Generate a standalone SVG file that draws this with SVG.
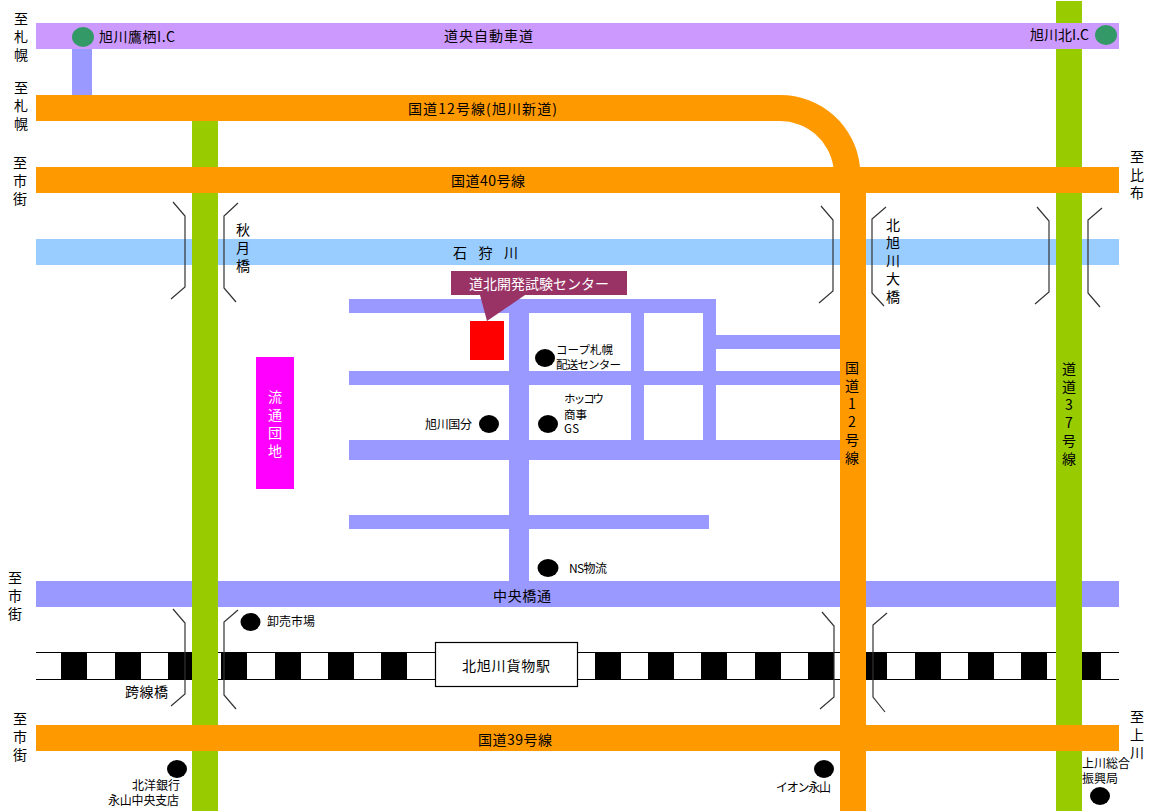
<svg xmlns="http://www.w3.org/2000/svg" width="1173" height="811" viewBox="0 0 1173 811">
<style>
text{font-family:"Noto Sans CJK JP","Noto Sans CJK SC",sans-serif;font-size:14px;fill:#000}
.v{writing-mode:vertical-rl;text-orientation:upright;letter-spacing:4px}
.s{font-size:12px}
.x{font-size:11.5px}
.w{fill:#fff}
.or{fill:#f90}.gr{fill:#9c0}.pu{fill:#c9f}.bl{fill:#99f}.ri{fill:#9cf}.k{fill:#000}
.ic{fill:#396}
.br{fill:none;stroke:#333;stroke-width:1.2}
</style>
<rect width="1173" height="811" fill="#fff"/>
<g id="rail">
<rect x="36" y="652" width="1083" height="27" fill="#fff"/>
<path d="M36 652.5H1119M36 679.5H1119" stroke="#000" stroke-width="1.2" fill="none"/>
<rect class="k" x="61" y="652" width="26" height="27"/><rect class="k" x="115" y="652" width="26" height="27"/><rect class="k" x="168" y="652" width="26" height="27"/><rect class="k" x="221" y="652" width="26" height="27"/><rect class="k" x="275" y="652" width="26" height="27"/><rect class="k" x="328" y="652" width="26" height="27"/><rect class="k" x="381" y="652" width="26" height="27"/><rect class="k" x="595" y="652" width="26" height="27"/><rect class="k" x="648" y="652" width="26" height="27"/><rect class="k" x="701" y="652" width="26" height="27"/><rect class="k" x="755" y="652" width="26" height="27"/><rect class="k" x="808" y="652" width="26" height="27"/><rect class="k" x="861" y="652" width="26" height="27"/><rect class="k" x="915" y="652" width="26" height="27"/><rect class="k" x="968" y="652" width="26" height="27"/><rect class="k" x="1021" y="652" width="26" height="27"/><rect class="k" x="1075" y="652" width="26" height="27"/>
</g>
<g id="roads">
<rect class="ri" x="36" y="239" width="1083" height="26"/>
<rect class="bl" x="36" y="581" width="1083" height="26"/>
<rect class="bl" x="72" y="49" width="20" height="46"/>
<rect class="bl" x="349" y="299" width="367" height="14"/>
<rect class="bl" x="349" y="371" width="491" height="14"/>
<rect class="bl" x="349" y="440" width="491" height="20"/>
<rect class="bl" x="349" y="515" width="360" height="14"/>
<rect class="bl" x="509" y="299" width="20" height="282"/>
<rect class="bl" x="631" y="299" width="13" height="141"/>
<rect class="bl" x="703" y="299" width="13" height="141"/>
<rect class="bl" x="716" y="335" width="124" height="14"/>
<rect class="gr" x="192" y="121" width="26" height="690"/>
<rect class="gr" x="1056" y="1" width="26" height="810"/>
<rect class="pu" x="36" y="23" width="1083" height="26"/>
<rect class="or" x="840" y="193" width="26" height="618"/>
<path class="or" d="M36 95H780A80 80 0 0 1 860 167H1119V193H36V167H833.400A54 54 0 0 0 780 121H36Z"/>
<rect class="or" x="36" y="725" width="1083" height="26"/>
</g>
<g id="bridges">
<polyline class="br" points="173,202 185,216 185,287 171,299"/>
<polyline class="br" points="238,203 224,216 224,288 236,302"/>
<polyline class="br" points="821,206 833,220 833,291 819,303"/>
<polyline class="br" points="886,207 872,219 872,293 884,306"/>
<polyline class="br" points="1037,207 1049,221 1049,292 1035,304"/>
<polyline class="br" points="1102,208 1088,220 1088,293 1100,307"/>
<polyline class="br" points="173,609 185,623 185,694 171,706"/>
<polyline class="br" points="238,610 224,622 224,695 236,709"/>
<polyline class="br" points="822,612 834,626 834,697 820,709"/>
<polyline class="br" points="887,613 873,625 873,697 885,712"/>
</g>
<g id="station">
<rect x="435.500" y="642.500" width="142" height="44" fill="#fff" stroke="#000" stroke-width="1.200"/>
<text x="462" y="671" textLength="88">北旭川貨物駅</text>
</g>
<g id="danchi">
<rect x="256" y="357" width="38" height="132" fill="#f0f"/>
<text class="v w" x="275" y="390">流通団地</text>
</g>
<g id="center">
<rect x="470" y="321" width="34" height="39" fill="#f00"/>
<path d="M451 271H627V295H525L487 321L480 295H451Z" fill="#936"/>
<text class="w" x="469" y="289" textLength="140">道北開発試験センター</text>
</g>
<g id="ic-west"><ellipse class="ic" cx="83" cy="37" rx="11" ry="10"/><text x="99" y="42" textLength="76">旭川鷹栖I.C</text></g>
<g id="ic-north"><ellipse class="ic" cx="1106" cy="35" rx="11" ry="10"/><text x="1030" y="40" textLength="59">旭川北I.C</text></g>
<g id="poi-coop"><ellipse class="k" cx="545" cy="358" rx="10" ry="9"/><text class="x" x="556" y="354" textLength="57">コープ札幌</text><text class="x" x="556" y="369" textLength="65">配送センター</text></g>
<g id="poi-hokko"><ellipse class="k" cx="548" cy="424" rx="10" ry="9"/><text class="x" x="564" y="403" textLength="40">ホッコウ</text><text class="x" x="564" y="419" textLength="23">商事</text><text class="x" x="564" y="433" textLength="15">GS</text></g>
<g id="poi-kokubu"><ellipse class="k" cx="489" cy="424" rx="10" ry="9"/><text class="s" x="425" y="429" textLength="47">旭川国分</text></g>
<g id="poi-ns"><ellipse class="k" cx="548" cy="568" rx="10.500" ry="9"/><text class="s" x="569" y="573" textLength="38">NS物流</text></g>
<g id="poi-oroshi"><ellipse class="k" cx="250.500" cy="622" rx="10" ry="9"/><text class="s" x="267" y="626" textLength="48">卸売市場</text></g>
<g id="poi-hokuyo"><ellipse class="k" cx="177" cy="769" rx="10" ry="9"/><text class="s" x="132" y="790" textLength="48">北洋銀行</text><text class="s" x="108" y="805" textLength="71">永山中央支店</text></g>
<g id="poi-aeon"><ellipse class="k" cx="824" cy="769" rx="10" ry="9"/><text class="s" x="776" y="792" textLength="55">イオン永山</text></g>
<g id="poi-kamikawa"><ellipse class="k" cx="1100" cy="796" rx="10" ry="9"/><text class="s" x="1082" y="768" textLength="48">上川総合</text><text class="s" x="1082" y="783" textLength="36">振興局</text></g>
<g id="labels">
<text x="444" y="41" textLength="89">道央自動車道</text>
<text x="408" y="114" textLength="149">国道12号線(旭川新道)</text>
<text x="451" y="186" textLength="74">国道40号線</text>
<text x="453" y="258" textLength="65">石 狩 川</text>
<text x="493" y="601" textLength="58">中央橋通</text>
<text x="478" y="745" textLength="74">国道39号線</text>
<text x="125" y="697" textLength="43">跨線橋</text>
<text class="v" x="21" y="12">至札幌</text>
<text class="v" x="21" y="81">至札幌</text>
<text class="v" x="20" y="156">至市街</text>
<text class="v" x="1137" y="150">至比布</text>
<text class="v" x="243" y="223">秋月橋</text>
<text class="v" x="893" y="218">北旭川大橋</text>
<text class="v" x="852" y="361">国道12号線</text>
<text class="v" x="1069" y="362">道道37号線</text>
<text class="v" x="15" y="571">至市街</text>
<text class="v" x="20" y="712">至市街</text>
<text class="v" x="1137" y="710">至上川</text>
</g>
</svg>
